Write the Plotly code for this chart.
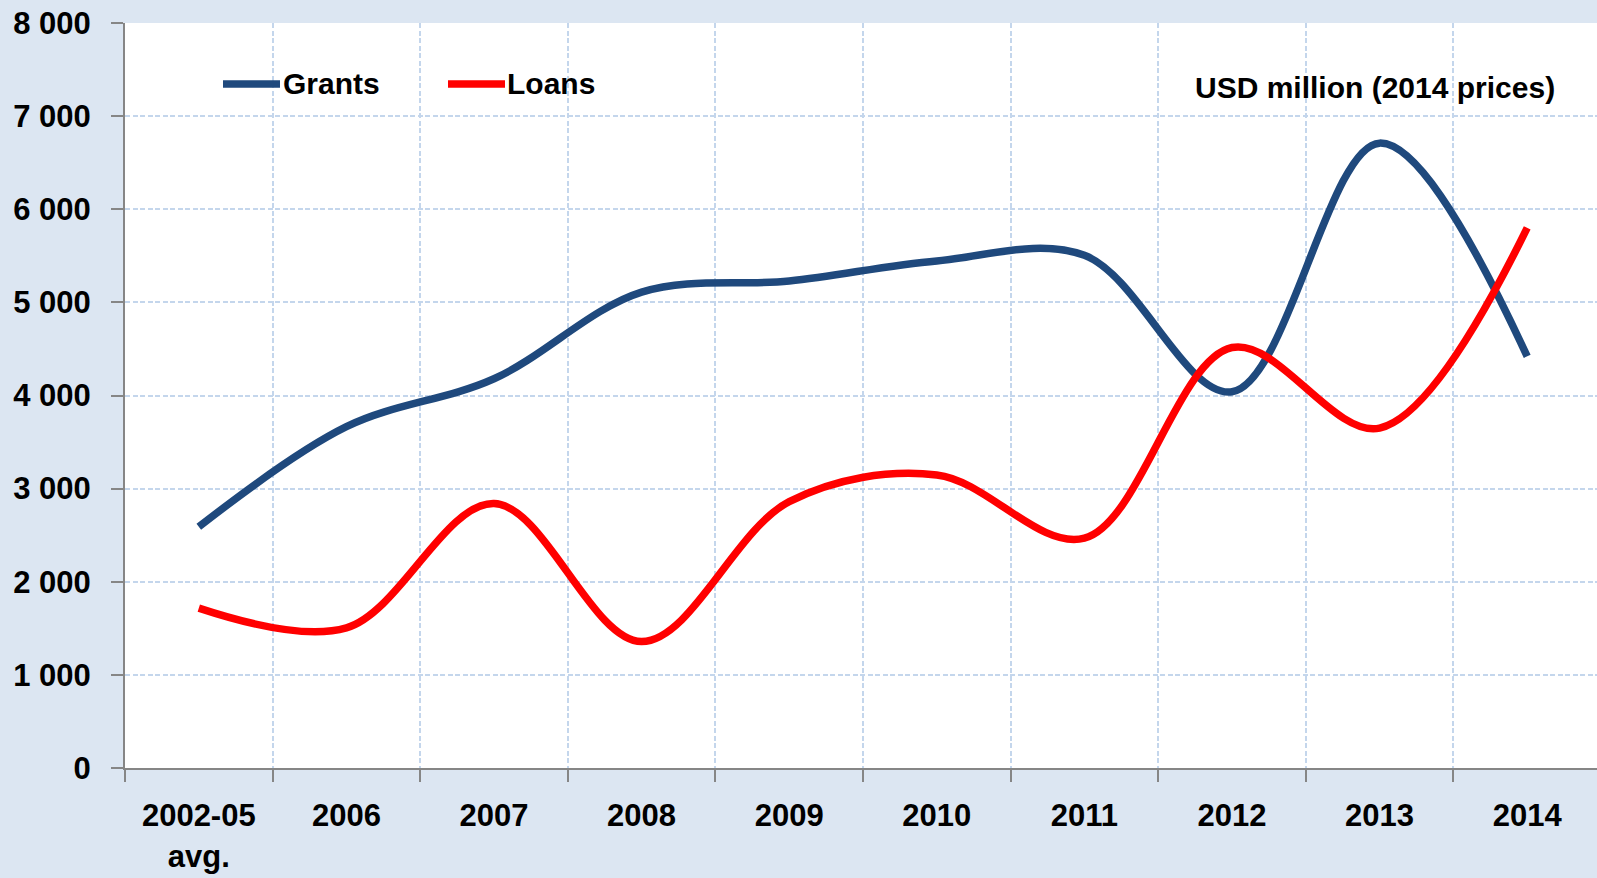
import plotly.graph_objects as go

categories = ["2002-05<br>avg.", "2006", "2007", "2008", "2009", "2010", "2011", "2012", "2013", "2014"]
grants = [2590, 3665, 4180, 5110, 5230, 5445, 5505, 4040, 6710, 4420]
loans = [1717, 1505, 2840, 1358, 2860, 3147, 2468, 4515, 3650, 5800]
y_tick_vals = [0, 1000, 2000, 3000, 4000, 5000, 6000, 7000, 8000]
y_tick_text = ["0", "1 000", "2 000", "3 000", "4 000", "5 000", "6 000", "7 000", "8 000"]

FONT = "Liberation Sans, Arial, sans-serif"
FS = 31
GRANT_C = "#1f497d"
LOAN_C = "#ff0000"
GRID_C = "#c4d6ec"
AXIS_C = "#868686"
BG = "#dce6f2"

fig = go.Figure()
fig.add_trace(go.Scatter(x=categories, y=grants, mode="lines", name="Grants",
                         line=dict(color=GRANT_C, width=7.5, shape="spline", smoothing=1.0),
                         showlegend=False, hoverinfo="skip"))
fig.add_trace(go.Scatter(x=categories, y=loans, mode="lines", name="Loans",
                         line=dict(color=LOAN_C, width=7.5, shape="spline", smoothing=1.0),
                         showlegend=False, hoverinfo="skip"))

W, H = 1597, 878
ml, mt, mb = 125, 23, 110
plot_w = W - ml
cat_w = 147.6
x_end = -0.5 + plot_w / cat_w

def px_x(p):
    return (p - ml) / plot_w

def px_y(p):
    return 1 - (p - mt) / (H - mt - mb)

# manual legend
for (x0, x1, col, label, tx) in [(223, 280, GRANT_C, "Grants", 281), (448, 505, LOAN_C, "Loans", 505)]:
    fig.add_shape(type="line", xref="paper", yref="paper",
                  x0=px_x(x0), x1=px_x(x1), y0=px_y(84), y1=px_y(84),
                  line=dict(color=col, width=7.5), layer="above")
    fig.add_annotation(xref="paper", yref="paper", x=px_x(tx), y=px_y(84),
                       text=label, showarrow=False, xanchor="left", yanchor="middle",
                       font=dict(family=FONT, size=30, color="black", weight="bold"))

fig.add_annotation(xref="paper", yref="paper", x=px_x(1557), y=px_y(87),
                   text="USD million (2014 prices)", showarrow=False,
                   xanchor="right", yanchor="middle",
                   font=dict(family=FONT, size=30, color="black", weight="bold"))

fig.update_layout(
    width=W, height=H,
    margin=dict(l=ml, r=0, t=mt, b=mb, pad=0),
    paper_bgcolor=BG, plot_bgcolor="white",
    font=dict(family=FONT, size=FS, color="black", weight="bold"),
    xaxis=dict(type="category", range=[-0.5, x_end], tickson="boundaries",
               automargin=False, tickangle=0,
               showgrid=True, gridcolor=GRID_C, griddash="5px,2.5px", gridwidth=1.6,
               showline=True, linecolor=AXIS_C, linewidth=2,
               ticks="outside", ticklen=12, tickcolor=AXIS_C, tickwidth=2,
               ticklabelstandoff=19, zeroline=False,
               tickfont=dict(family=FONT, size=FS, color="black", weight="bold")),
    yaxis=dict(range=[0, 8000], tickvals=y_tick_vals, ticktext=y_tick_text,
               automargin=False,
               showgrid=True, gridcolor=GRID_C, griddash="5px,2.5px", gridwidth=1.6,
               showline=True, linecolor=AXIS_C, linewidth=2,
               ticks="outside", ticklen=12, tickcolor=AXIS_C, tickwidth=2,
               ticklabelstandoff=14, zeroline=False,
               tickfont=dict(family=FONT, size=FS, color="black", weight="bold")),
)

fig.write_html("out.html", config={"displayModeBar": False},
               post_script="document.body.style.margin='0';")
